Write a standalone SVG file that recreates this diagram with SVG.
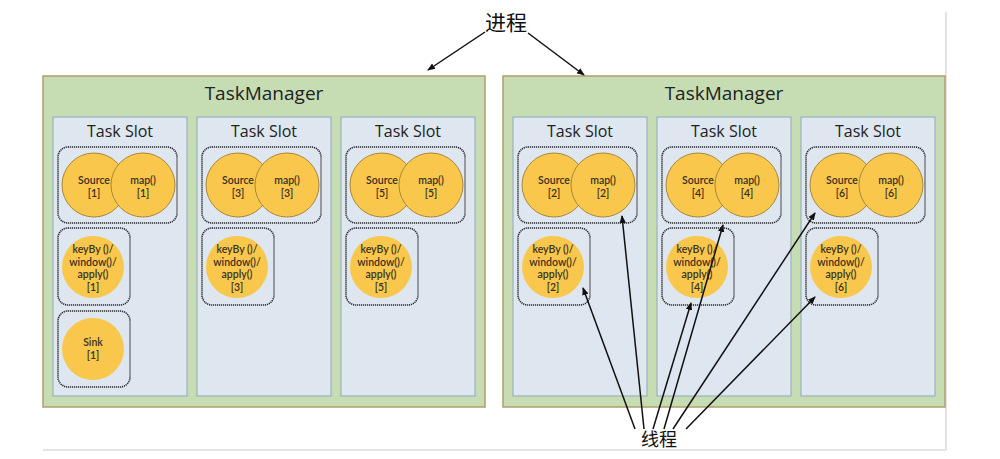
<svg xmlns="http://www.w3.org/2000/svg" width="1000" height="459" viewBox="0 0 1000 459">
<style>
.tm{fill:#c6ddb3;stroke:#b39c6c;stroke-width:1.5}
.slot{fill:#dee6f0;stroke:#9fb0c0;stroke-width:1.2}
.grp{fill:none;stroke:#2a2a2a;stroke-width:1.6;stroke-dasharray:1.2 0.8}
.op{fill:#f8c74b}
.ops{fill:#f8c74b;stroke:#a8873a;stroke-width:1}
.t{font-family:"Open Sans","Liberation Sans",sans-serif;fill:#222;text-anchor:middle}
.tmt{font-size:19px}
.st{font-size:16px;font-weight:500}
.ct{font-family:Lato,"Open Sans",sans-serif;font-size:10.5px;font-weight:600;fill:#3a3020}
.cn{font-family:"Noto Sans CJK SC","Noto Sans",sans-serif;fill:#111;text-anchor:middle}
.ln{stroke:#111;stroke-width:1.5;fill:none;marker-end:url(#ah)}
.frame{stroke:#dcdcdc;stroke-width:1.5;fill:none}
</style>
<defs>
<marker id="ah" markerWidth="8" markerHeight="8" refX="7" refY="4" orient="auto" markerUnits="userSpaceOnUse">
<path d="M0,0.8 L8,4 L0,7.2 z" fill="#111"/>
</marker>
</defs>
<rect width="1000" height="459" fill="#fff"/>
<path class="frame" d="M946,12 V450 H43"/>

<g id="tm1">
<rect class="tm" x="43" y="76" width="442" height="331"/>
<text class="t tmt" x="264" y="100">TaskManager</text>
</g>
<g id="tm2">
<rect class="tm" x="503" y="76" width="442" height="331"/>
<text class="t tmt" x="724" y="100">TaskManager</text>
</g>

<g id="slot1">
<rect class="slot" x="53" y="117" width="134" height="279"/>
<text class="t st" x="120" y="137">Task Slot</text>
<rect class="grp" x="58" y="147" width="119" height="76" rx="10"/>
<circle class="ops" cx="94" cy="185" r="32"/>
<circle class="ops" cx="143" cy="185" r="32"/>
<text class="t ct" x="94" y="184">Source</text><text class="t ct" x="94" y="197">[1]</text>
<text class="t ct" x="143" y="184">map()</text><text class="t ct" x="143" y="197">[1]</text>
<rect class="grp" x="58" y="228" width="72" height="77" rx="10"/>
<circle class="op" cx="93" cy="267" r="31"/>
<text class="t ct" x="93" y="253">keyBy ()/</text><text class="t ct" x="93" y="266">window()/</text><text class="t ct" x="93" y="278">apply()</text><text class="t ct" x="93" y="291">[1]</text>
<rect class="grp" x="58" y="311" width="72" height="76" rx="10"/>
<circle class="op" cx="93" cy="349" r="31"/>
<text class="t ct" x="93" y="346">Sink</text><text class="t ct" x="93" y="359">[1]</text>
</g>

<g id="slot3">
<rect class="slot" x="197" y="117" width="134" height="279"/>
<text class="t st" x="264" y="137">Task Slot</text>
<rect class="grp" x="202" y="147" width="119" height="76" rx="10"/>
<circle class="ops" cx="238" cy="185" r="32"/>
<circle class="ops" cx="287" cy="185" r="32"/>
<text class="t ct" x="238" y="184">Source</text><text class="t ct" x="238" y="197">[3]</text>
<text class="t ct" x="287" y="184">map()</text><text class="t ct" x="287" y="197">[3]</text>
<rect class="grp" x="202" y="228" width="72" height="77" rx="10"/>
<circle class="op" cx="237" cy="267" r="31"/>
<text class="t ct" x="237" y="253">keyBy ()/</text><text class="t ct" x="237" y="266">window()/</text><text class="t ct" x="237" y="278">apply()</text><text class="t ct" x="237" y="291">[3]</text>
</g>

<g id="slot5">
<rect class="slot" x="341" y="117" width="134" height="279"/>
<text class="t st" x="408" y="137">Task Slot</text>
<rect class="grp" x="346" y="147" width="119" height="76" rx="10"/>
<circle class="ops" cx="382" cy="185" r="32"/>
<circle class="ops" cx="431" cy="185" r="32"/>
<text class="t ct" x="382" y="184">Source</text><text class="t ct" x="382" y="197">[5]</text>
<text class="t ct" x="431" y="184">map()</text><text class="t ct" x="431" y="197">[5]</text>
<rect class="grp" x="346" y="228" width="72" height="77" rx="10"/>
<circle class="op" cx="381" cy="267" r="31"/>
<text class="t ct" x="381" y="253">keyBy ()/</text><text class="t ct" x="381" y="266">window()/</text><text class="t ct" x="381" y="278">apply()</text><text class="t ct" x="381" y="291">[5]</text>
</g>

<g id="slot2">
<rect class="slot" x="513" y="117" width="134" height="279"/>
<text class="t st" x="580" y="137">Task Slot</text>
<rect class="grp" x="518" y="147" width="119" height="76" rx="10"/>
<circle class="ops" cx="554" cy="185" r="32"/>
<circle class="ops" cx="603" cy="185" r="32"/>
<text class="t ct" x="554" y="184">Source</text><text class="t ct" x="554" y="197">[2]</text>
<text class="t ct" x="603" y="184">map()</text><text class="t ct" x="603" y="197">[2]</text>
<rect class="grp" x="518" y="228" width="72" height="77" rx="10"/>
<circle class="op" cx="553" cy="267" r="31"/>
<text class="t ct" x="553" y="253">keyBy ()/</text><text class="t ct" x="553" y="266">window()/</text><text class="t ct" x="553" y="278">apply()</text><text class="t ct" x="553" y="291">[2]</text>
</g>

<g id="slot4">
<rect class="slot" x="657" y="117" width="134" height="279"/>
<text class="t st" x="724" y="137">Task Slot</text>
<rect class="grp" x="662" y="147" width="119" height="76" rx="10"/>
<circle class="ops" cx="698" cy="185" r="32"/>
<circle class="ops" cx="747" cy="185" r="32"/>
<text class="t ct" x="698" y="184">Source</text><text class="t ct" x="698" y="197">[4]</text>
<text class="t ct" x="747" y="184">map()</text><text class="t ct" x="747" y="197">[4]</text>
<rect class="grp" x="662" y="228" width="72" height="77" rx="10"/>
<circle class="op" cx="697" cy="267" r="31"/>
<text class="t ct" x="697" y="253">keyBy ()/</text><text class="t ct" x="697" y="266">window()/</text><text class="t ct" x="697" y="278">apply()</text><text class="t ct" x="697" y="291">[4]</text>
</g>

<g id="slot6">
<rect class="slot" x="801" y="117" width="134" height="279"/>
<text class="t st" x="868" y="137">Task Slot</text>
<rect class="grp" x="806" y="147" width="119" height="76" rx="10"/>
<circle class="ops" cx="842" cy="185" r="32"/>
<circle class="ops" cx="891" cy="185" r="32"/>
<text class="t ct" x="842" y="184">Source</text><text class="t ct" x="842" y="197">[6]</text>
<text class="t ct" x="891" y="184">map()</text><text class="t ct" x="891" y="197">[6]</text>
<rect class="grp" x="806" y="228" width="72" height="77" rx="10"/>
<circle class="op" cx="841" cy="267" r="31"/>
<text class="t ct" x="841" y="253">keyBy ()/</text><text class="t ct" x="841" y="266">window()/</text><text class="t ct" x="841" y="278">apply()</text><text class="t ct" x="841" y="291">[6]</text>
</g>

<g id="process-label">
<text class="cn" x="506" y="30" font-size="21">进程</text>
</g>
<g id="thread-label">
<text class="cn" x="659" y="446" font-size="18">线程</text>
</g>

<g id="connectors">
<line class="ln" x1="485" y1="32" x2="428" y2="70"/>
<line class="ln" x1="528" y1="33" x2="584" y2="75"/>
<line class="ln" x1="635" y1="429" x2="583" y2="288"/>
<line class="ln" x1="644" y1="429" x2="622" y2="216"/>
<line class="ln" x1="653" y1="429" x2="691" y2="303"/>
<line class="ln" x1="664" y1="429" x2="723" y2="225"/>
<line class="ln" x1="673" y1="429" x2="815" y2="213"/>
<line class="ln" x1="686" y1="429" x2="815" y2="297"/>
</g>
</svg>
